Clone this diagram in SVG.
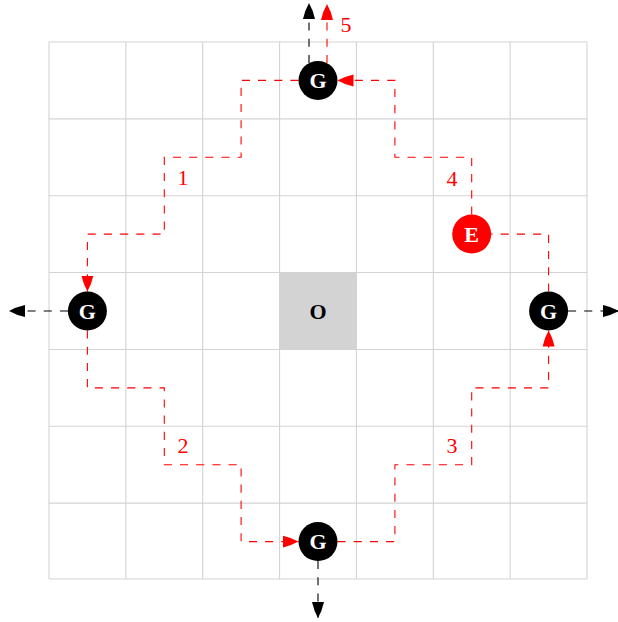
<svg xmlns="http://www.w3.org/2000/svg" width="618" height="622" viewBox="0 0 618 622">
<style>
.grid{stroke:#d3d3d3;stroke-width:1.1;fill:none}
.red{stroke:#ff0000;stroke-width:1.1;fill:none;stroke-dasharray:8.1 8.1}
.blk{stroke:#000;stroke-width:1.1;fill:none;stroke-dasharray:8.1 8.1}
.lbl{font-family:"Liberation Serif",serif;font-size:22px;fill:#ff0000;text-anchor:middle}
.nt{font-family:"Liberation Serif",serif;font-size:22px;font-weight:bold;fill:#fff;text-anchor:middle}
</style>
<defs>
<marker id="ar" markerUnits="userSpaceOnUse" markerWidth="17" markerHeight="13" refX="16" refY="6.5" orient="auto" viewBox="0 0 17 13">
<path d="M0,0.5 Q9,2.5 16,6.5 Q9,10.5 0,12.5 z" fill="#ff0000"/>
</marker>
<marker id="ab" markerUnits="userSpaceOnUse" markerWidth="17" markerHeight="13" refX="16" refY="6.5" orient="auto" viewBox="0 0 17 13">
<path d="M0,0.5 Q9,2.5 16,6.5 Q9,10.5 0,12.5 z" fill="#000"/>
</marker>
</defs>
<rect width="618" height="622" fill="#fff"/>
<g id="grid">
<rect x="279.57" y="272.57" width="76.86" height="76.86" fill="#d3d3d3"/>
<path class="grid" d="M49,42V579M125.86,42V579M202.71,42V579M279.57,42V579M356.43,42V579M433.29,42V579M510.14,42V579M587,42V579M49,42H587M49,118.86H587M49,195.71H587M49,272.57H587M49,349.43H587M49,426.29H587M49,503.14H587M49,579H587"/>
</g>
<g id="connectors">
<path class="red" d="M298.5,80.4H241.1V157.3H164.3V234.1H87.4V291.5" marker-end="url(#ar)"/>
<path class="red" d="M87.4,330.5V387.9H164.3V464.7H241.1V541.6H298.5" marker-end="url(#ar)"/>
<path class="red" d="M337.5,541.6H394.9V464.7H471.7V387.9H548.6V330.5" marker-end="url(#ar)"/>
<path class="red" d="M548.6,291.5V234.1H491.2"/>
<path class="red" d="M471.7,214.6V157.3H394.9V80.4H337.5" marker-end="url(#ar)"/>
<path class="red" d="M327,63V4" marker-end="url(#ar)"/>
<path class="blk" d="M309,63V3" marker-end="url(#ab)"/>
<path class="blk" d="M68,311H9" marker-end="url(#ab)"/>
<path class="blk" d="M568,311H619" marker-end="url(#ab)"/>
<path class="blk" d="M318,561V618" marker-end="url(#ab)"/>
<text class="lbl" x="183" y="185">1</text>
<text class="lbl" x="183" y="453">2</text>
<text class="lbl" x="452" y="453">3</text>
<text class="lbl" x="452" y="186">4</text>
<text class="lbl" x="346" y="32">5</text>
</g>
<g id="node-O">
<text x="318" y="318.5" font-family="'Liberation Serif',serif" font-size="22" font-weight="bold" text-anchor="middle" fill="#000">O</text>
</g>
<g id="node-G-top"><circle cx="318" cy="80.4" r="19.5" fill="#000"/><text class="nt" x="318" y="88">G</text></g>
<g id="node-G-left"><circle cx="87.4" cy="311" r="19.5" fill="#000"/><text class="nt" x="87.4" y="318.6">G</text></g>
<g id="node-G-right"><circle cx="548.6" cy="311" r="19.5" fill="#000"/><text class="nt" x="548.6" y="318.6">G</text></g>
<g id="node-G-bottom"><circle cx="318" cy="541.6" r="19.5" fill="#000"/><text class="nt" x="318" y="549.2">G</text></g>
<g id="node-E"><circle cx="471.7" cy="234.1" r="19.5" fill="#ff0000"/><text class="nt" x="471.7" y="241.7">E</text></g>
</svg>
